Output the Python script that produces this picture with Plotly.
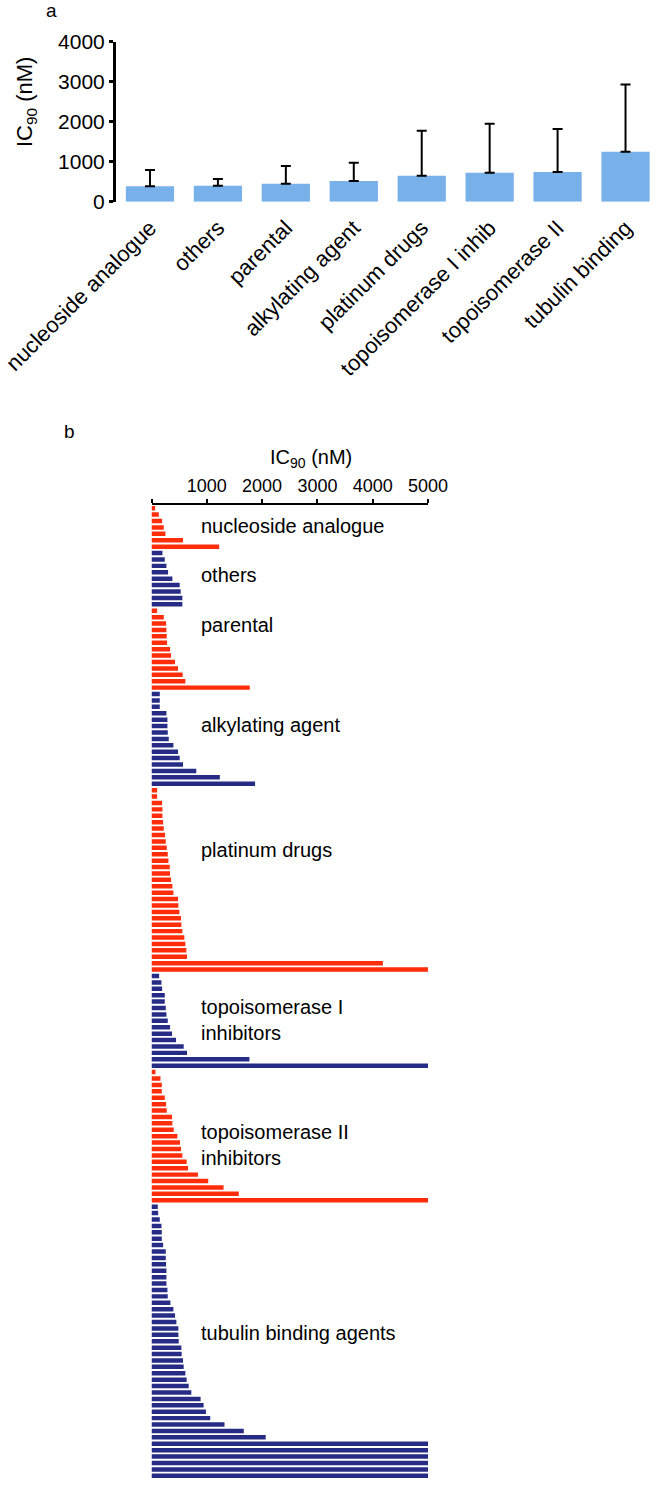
import plotly.graph_objects as go

# ---------------- data: panel a (mean IC90 per drug class) ----------------
categories_a = ["nucleoside analogue", "others", "parental", "alkylating agent",
                "platinum drugs", "topoisomerase I inhib", "topoisomerase II",
                "tubulin binding"]
mean_a = [385, 400, 450, 517, 650, 725, 742, 1250]
sd_a = [407, 167, 442, 458, 1125, 1225, 1075, 1683]
ticks_a = [0, 1000, 2000, 3000, 4000]

# ---------------- data: panel b (individual IC90 values, nM) ----------------
nucleoside = [66, 132, 192, 222, 252, 570, 1224]
others = [198, 240, 270, 300, 378, 510, 528, 558, 558]
parental = [102, 222, 264, 270, 276, 282, 336, 354, 426, 480, 564, 612, 1777]
alkylating = [150, 150, 150, 270, 288, 288, 294, 312, 396, 480, 510, 570, 810,
              1236, 1873]
platinum = [102, 102, 192, 198, 198, 210, 222, 246, 258, 276, 294, 306, 330, 336,
            354, 378, 396, 480, 486, 504, 534, 540, 558, 594, 612, 630, 642,
            4184, 5000]
topo1 = [138, 180, 192, 240, 240, 258, 270, 294, 336, 372, 444, 582, 642, 1771,
         5000]
topo2 = [72, 162, 186, 186, 240, 264, 276, 372, 378, 402, 468, 516, 534, 558,
         636, 660, 840, 1026, 1303, 1579, 5000]
tubulin = [114, 120, 150, 180, 186, 186, 210, 258, 258, 264, 270, 270, 270, 288,
           294, 342, 396, 426, 450, 486, 486, 492, 540, 546, 570, 582, 612, 636,
           672, 720, 888, 942, 984, 1062, 1320, 1669, 2065,
           5000, 5000, 5000, 5000, 5000, 5000]
groups_b = [nucleoside, others, parental, alkylating, platinum, topo1, topo2,
            tubulin]
group_names_b = ["nucleoside analogue", "others", "parental", "alkylating agent",
                 "platinum drugs", "topoisomerase I<br>inhibitors",
                 "topoisomerase II<br>inhibitors", "tubulin binding agents"]
ticks_b = [0, 1000, 2000, 3000, 4000, 5000]

# ---------------- styling / layout ----------------
W, H = 660, 1492
FONT = "Liberation Sans, Arial, Helvetica, sans-serif"
RED = "#FF2D0A"
BLUE = "#262C86"
BAR_A = "#78B0EA"
group_colors = [RED, BLUE, RED, BLUE, RED, BLUE, RED, BLUE]
label_rows = [2.8, 10.4, 18.2, 33.8, 53.4, 79.9, 99.4, 128.7]


def px_x(p):
    return p / W


def px_y(p):
    return 1 - p / H


fig = go.Figure()

# panel a
fig.add_trace(go.Bar(
    x=categories_a, y=mean_a, marker=dict(color=BAR_A, line=dict(width=0)),
    width=0.71,
    error_y=dict(type="data", array=sd_a, arrayminus=[0] * len(sd_a),
                 symmetric=False, color="black", thickness=2, width=5),
    xaxis="x", yaxis="y", showlegend=False,
))

# panel b
n_total = sum(len(g) for g in groups_b)
start = 0
for vals, col in zip(groups_b, group_colors):
    rows = list(range(start, start + len(vals)))
    fig.add_trace(go.Bar(
        x=vals, y=rows, orientation="h", width=0.7,
        marker=dict(color=col, line=dict(width=0)),
        xaxis="x2", yaxis="y2", showlegend=False,
    ))
    start += len(vals)


def paper_text(text, x, y, size, angle=0):
    return dict(text=text, x=px_x(x), y=px_y(y), xref="paper", yref="paper",
                xanchor="center", yanchor="middle", textangle=angle,
                showarrow=False, font=dict(size=size, color="black", family=FONT))


annotations = [
    paper_text("a", 51, 11, 19),
    paper_text("b", 69, 432, 19),
    paper_text("IC<sub>90</sub> (nM)", 26, 102, 22, -90),
    paper_text("IC<sub>90</sub> (nM)", 311, 458, 20),
]
for name, row in zip(group_names_b, label_rows):
    annotations.append(dict(
        text=name, x=865, y=row, xref="x2", yref="y2", xanchor="left",
        yanchor="middle", align="left", showarrow=False,
        font=dict(size=20, color="black", family=FONT)))

fig.update_layout(
    template="none",
    width=W, height=H, margin=dict(l=0, r=0, t=0, b=0, pad=0),
    paper_bgcolor="white", plot_bgcolor="white",
    font=dict(family=FONT, color="black"),
    bargap=0.29,
    xaxis=dict(domain=[px_x(116), px_x(659.5)], anchor="y", showline=False,
               ticks="", showgrid=False, zeroline=False, tickangle=-45,
               automargin=False, ticklabelstandoff=8,
               tickfont=dict(size=22, family=FONT, color="black"),
               range=[-0.5, len(categories_a) - 0.5]),
    yaxis=dict(domain=[px_y(201.7), px_y(41.7)], anchor="x", range=[0, 4000],
               tickvals=ticks_a, showline=True, linewidth=3, linecolor="black",
               ticks="outside", ticklen=4, tickwidth=3, tickcolor="black",
               showgrid=False, zeroline=False, automargin=False,
               tickfont=dict(size=21, family=FONT, color="black")),
    xaxis2=dict(domain=[px_x(151.5), px_x(428)], anchor="y2", side="top",
                range=[0, 5000], tickvals=ticks_b,
                ticktext=[""] + [str(t) for t in ticks_b[1:]],
                showline=True, linewidth=1.5, linecolor="black",
                ticks="outside", ticklen=4, tickwidth=1.5, tickcolor="black",
                showgrid=False, zeroline=False, automargin=False,
                tickfont=dict(size=18, family=FONT, color="black")),
    yaxis2=dict(domain=[px_y(1479), px_y(505)], anchor="x2",
                range=[n_total - 0.5, -0.5], showline=False, showticklabels=False,
                ticks="", showgrid=False, zeroline=False, automargin=False),
    annotations=annotations,
)

fig.write_html("out.html",
               config={"displayModeBar": False},
               post_script="document.body.style.margin='0';"
                           "document.body.style.overflow='hidden';")
